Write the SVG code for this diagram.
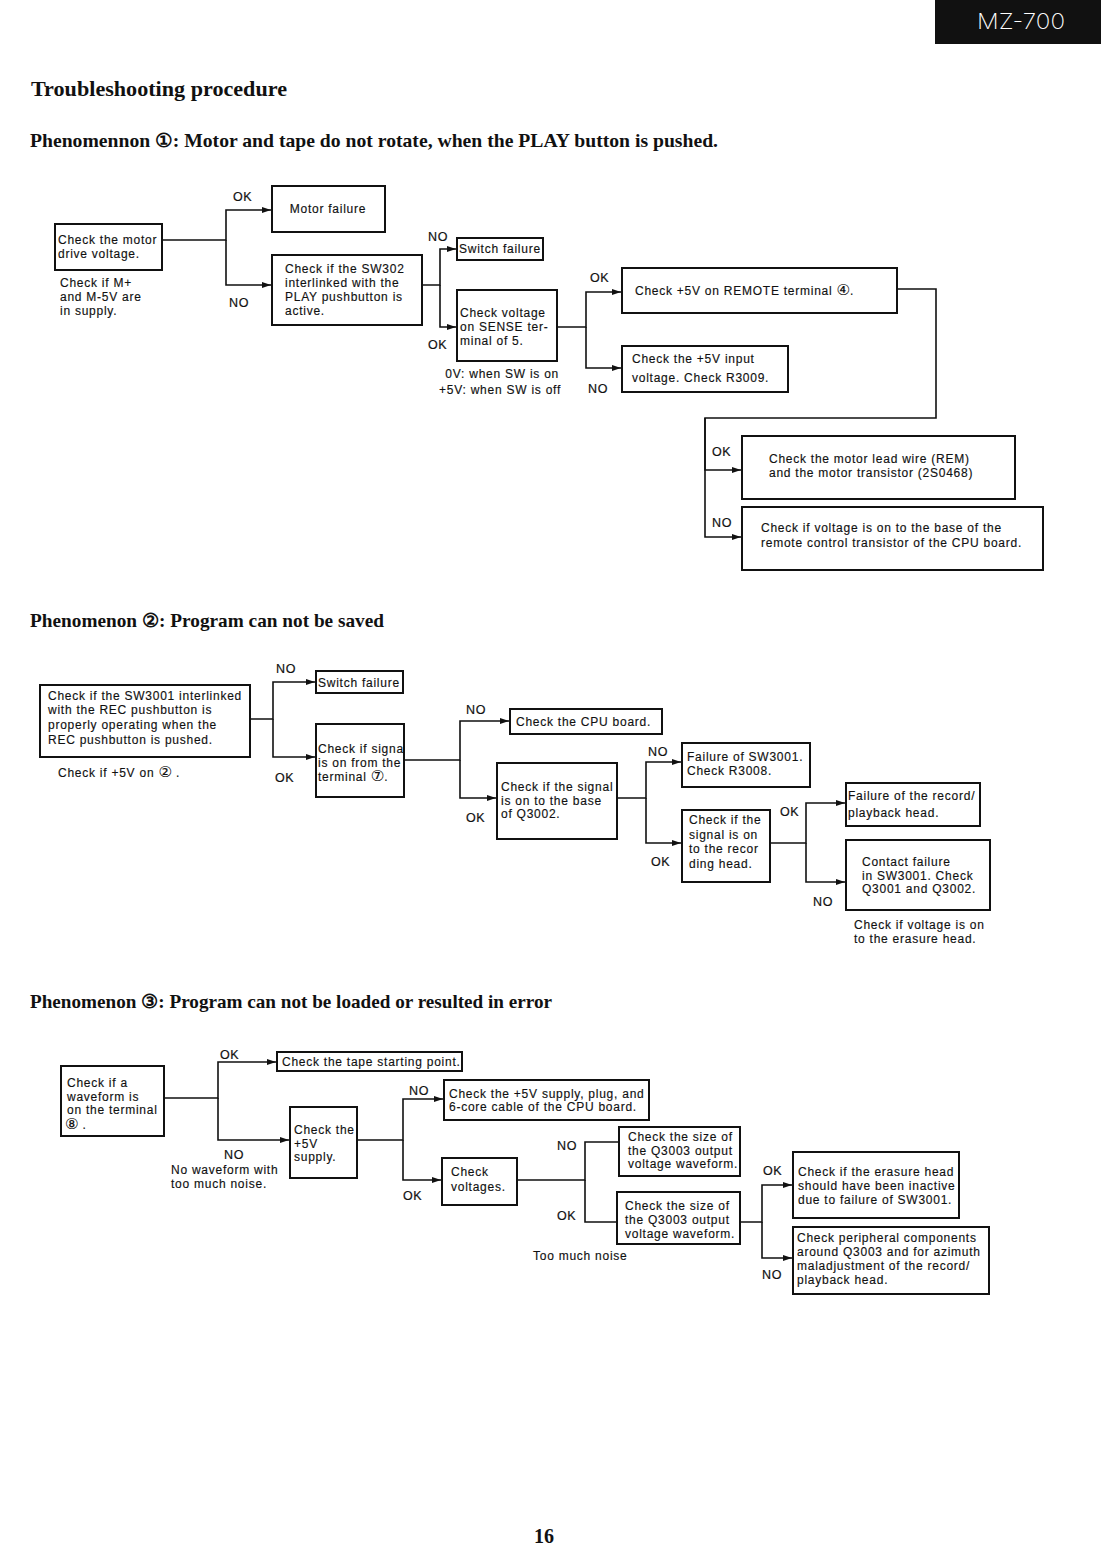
<svg xmlns="http://www.w3.org/2000/svg" width="1101" height="1566" viewBox="0 0 1101 1566">
<defs>
<marker id="ar" markerUnits="userSpaceOnUse" markerWidth="10" markerHeight="8" refX="9" refY="3.5" orient="auto">
<path d="M0,0.5 L9,3.5 L0,6.5 z" fill="#111"/>
</marker>
<clipPath id="clipSig"><rect x="316" y="724" width="87" height="73"/></clipPath>
<style>
.t{font-family:"Liberation Sans",Arial,sans-serif;font-size:12px;letter-spacing:0.75px;fill:#111;stroke:#111;stroke-width:0.15}
.l{font-family:"Liberation Sans",Arial,sans-serif;font-size:12.5px;letter-spacing:0.6px;fill:#111;stroke:#111;stroke-width:0.2}
.h{font-family:"Liberation Serif","Times New Roman",serif;font-weight:bold;fill:#111}
.n{font-family:"DejaVu Sans",sans-serif;font-size:15px;stroke-width:0.1;letter-spacing:0}
.b{fill:#fff;stroke:#111;stroke-width:2}
.c{fill:none;stroke:#111;stroke-width:1.6}
.a{fill:none;stroke:#111;stroke-width:1.6;marker-end:url(#ar)}
</style>
</defs>
<rect width="1101" height="1566" fill="#fff"/>
<g id="header">
<rect x="935" y="0" width="166" height="44" fill="#111"/>
<text x="977" y="29" textLength="88" lengthAdjust="spacingAndGlyphs" style="font-family:Inter,'DejaVu Sans',sans-serif;font-weight:200;font-size:22px;fill:#fff">MZ-700</text>
</g>
<g id="titles">
<text class="h" x="31" y="96" font-size="21" textLength="256" lengthAdjust="spacingAndGlyphs">Troubleshooting procedure</text>
<text class="h" x="30" y="147" font-size="19" textLength="688" lengthAdjust="spacingAndGlyphs">Phenomennon ①:  Motor and tape do not rotate, when the PLAY button is pushed.</text>
<text class="h" x="30" y="627" font-size="19" textLength="354" lengthAdjust="spacingAndGlyphs">Phenomenon ②:  Program can not be saved</text>
<text class="h" x="30" y="1008" font-size="19" textLength="522" lengthAdjust="spacingAndGlyphs">Phenomenon ③:  Program can not be loaded or resulted in error</text>
<text class="h" x="544" y="1543" font-size="20" text-anchor="middle">16</text>
</g>
<g id="connectors">
<path class="a" d="M162,240 H226 V210 H271"/>
<path class="a" d="M226,240 V285 H271"/>
<path class="a" d="M422,285 H440 V249 H456"/>
<path class="a" d="M440,285 V327 H456"/>
<path class="a" d="M557,327 H586 V292 H621"/>
<path class="a" d="M586,327 V368 H621"/>
<path class="c" d="M897,289 H936 V418 H705 V470"/>
<path class="a" d="M705,418 V470 H741"/>
<path class="a" d="M705,470 V537 H741"/>
<path class="a" d="M250,719 H273 V682 H315"/>
<path class="a" d="M273,719 V757 H315"/>
<path class="a" d="M404,760 H460 V721 H509"/>
<path class="a" d="M460,760 V798 H496"/>
<path class="a" d="M617,798 H646 V762 H681"/>
<path class="a" d="M646,798 V843 H681"/>
<path class="a" d="M770,843 H806 V803 H845"/>
<path class="a" d="M806,843 V882 H845"/>
<path class="a" d="M164,1098 H218 V1062 H276"/>
<path class="a" d="M218,1098 V1140 H289"/>
<path class="a" d="M357,1140 H403 V1099 H443"/>
<path class="a" d="M403,1140 V1180 H441"/>
<path class="c" d="M517,1180 H585 V1142 H619"/>
<path class="c" d="M585,1180 V1222 H617"/>
<path class="a" d="M740,1222 H762 V1185 H792"/>
<path class="a" d="M762,1222 V1258 H792"/>
</g>
<g id="labels">
<text class="l" x="233" y="201">OK</text>
<text class="l" x="229" y="307">NO</text>
<text class="l" x="428" y="241">NO</text>
<text class="l" x="428" y="349">OK</text>
<text class="l" x="590" y="282">OK</text>
<text class="l" x="588" y="393">NO</text>
<text class="l" x="712" y="456">OK</text>
<text class="l" x="712" y="527">NO</text>
<text class="l" x="276" y="673">NO</text>
<text class="l" x="275" y="782">OK</text>
<text class="l" x="466" y="714">NO</text>
<text class="l" x="466" y="822">OK</text>
<text class="l" x="648" y="756">NO</text>
<text class="l" x="651" y="866">OK</text>
<text class="l" x="780" y="816">OK</text>
<text class="l" x="813" y="906">NO</text>
<text class="l" x="220" y="1059">OK</text>
<text class="l" x="224" y="1159">NO</text>
<text class="l" x="409" y="1095">NO</text>
<text class="l" x="403" y="1200">OK</text>
<text class="l" x="557" y="1150">NO</text>
<text class="l" x="557" y="1220">OK</text>
<text class="l" x="763" y="1175">OK</text>
<text class="l" x="762" y="1279">NO</text>
</g>
<g id="notes">
<text class="t" x="60" y="287">Check if M+</text>
<text class="t" x="60" y="301">and M-5V are</text>
<text class="t" x="60" y="315">in supply.</text>
<text class="t" x="559" y="378" text-anchor="end">0V: when SW is on</text>
<text class="t" x="561" y="394" text-anchor="end">+5V: when SW is off</text>
<text class="t" x="58" y="777">Check if +5V on <tspan class="n">②</tspan> .</text>
<text class="t" x="854" y="929">Check if voltage is on</text>
<text class="t" x="854" y="943">to the erasure head.</text>
<text class="t" x="171" y="1174">No waveform with</text>
<text class="t" x="171" y="1188">too much noise.</text>
<text class="t" x="533" y="1260">Too much noise</text>
</g>
<g id="p1-motor-drive"><rect class="b" x="55" y="224" width="107" height="46"/><text class="t" x="58" y="244">Check the motor</text><text class="t" x="58" y="258">drive voltage.</text></g>
<g id="p1-motor-failure"><rect class="b" x="272" y="186" width="113" height="46"/><text class="t" x="328" y="213" text-anchor="middle">Motor failure</text></g>
<g id="p1-sw302"><rect class="b" x="272" y="255" width="150" height="70"/><text class="t" x="285" y="273">Check if the SW302</text><text class="t" x="285" y="287">interlinked with the</text><text class="t" x="285" y="301">PLAY pushbutton is</text><text class="t" x="285" y="315">active.</text></g>
<g id="p1-switch-failure"><rect class="b" x="457" y="238" width="86" height="22"/><text class="t" x="459" y="253">Switch failure</text></g>
<g id="p1-sense"><rect class="b" x="457" y="290" width="100" height="71"/><text class="t" x="460" y="317">Check voltage</text><text class="t" x="460" y="331">on SENSE ter-</text><text class="t" x="460" y="345">minal of 5.</text></g>
<g id="p1-remote"><rect class="b" x="622" y="268" width="275" height="45"/><text class="t" x="635" y="295">Check +5V on REMOTE terminal <tspan class="n">④</tspan>.</text></g>
<g id="p1-input"><rect class="b" x="622" y="346" width="166" height="46"/><text class="t" x="632" y="363">Check the +5V input</text><text class="t" x="632" y="382">voltage. Check R3009.</text></g>
<g id="p1-lead"><rect class="b" x="742" y="436" width="273" height="63"/><text class="t" x="769" y="463">Check the motor lead wire (REM)</text><text class="t" x="769" y="477">and the motor transistor (2S0468)</text></g>
<g id="p1-base"><rect class="b" x="742" y="507" width="301" height="63"/><text class="t" x="761" y="532">Check if voltage is on to the base of the</text><text class="t" x="761" y="547">remote control transistor of the CPU board.</text></g>
<g id="p2-sw3001"><rect class="b" x="40" y="685" width="210" height="72"/><text class="t" x="48" y="700">Check if the SW3001 interlinked</text><text class="t" x="48" y="714">with the REC pushbutton is</text><text class="t" x="48" y="729">properly operating when the</text><text class="t" x="48" y="744">REC pushbutton is pushed.</text></g>
<g id="p2-switch-failure"><rect class="b" x="316" y="671" width="87" height="22"/><text class="t" x="318" y="687">Switch failure</text></g>
<g id="p2-signal7"><rect class="b" x="316" y="724" width="88" height="73"/><g clip-path="url(#clipSig)"><text class="t" x="318" y="753">Check if signal</text><text class="t" x="318" y="767">is on from the</text><text class="t" x="318" y="781">terminal <tspan class="n">⑦</tspan>.</text></g><rect x="316" y="724" width="88" height="73" fill="none" stroke="#111" stroke-width="2"/></g>
<g id="p2-cpu"><rect class="b" x="510" y="709" width="152" height="25"/><text class="t" x="516" y="726">Check the CPU board.</text></g>
<g id="p2-q3002"><rect class="b" x="497" y="763" width="120" height="76"/><text class="t" x="501" y="791">Check if the signal</text><text class="t" x="501" y="805">is on to the base</text><text class="t" x="501" y="818">of Q3002.</text></g>
<g id="p2-r3008"><rect class="b" x="682" y="743" width="128" height="44"/><text class="t" x="687" y="761">Failure of SW3001.</text><text class="t" x="687" y="775">Check R3008.</text></g>
<g id="p2-rechead"><rect class="b" x="682" y="810" width="88" height="72"/><text class="t" x="689" y="824">Check if the</text><text class="t" x="689" y="839">signal is on</text><text class="t" x="689" y="853">to the recor</text><text class="t" x="689" y="868">ding head.</text></g>
<g id="p2-headfail"><rect class="b" x="846" y="783" width="134" height="43"/><text class="t" x="848" y="800">Failure of the record/</text><text class="t" x="848" y="817">playback head.</text></g>
<g id="p2-contact"><rect class="b" x="846" y="840" width="144" height="70"/><text class="t" x="862" y="866">Contact failure</text><text class="t" x="862" y="880">in SW3001. Check</text><text class="t" x="862" y="893">Q3001 and Q3002.</text></g>
<g id="p3-waveform"><rect class="b" x="61" y="1066" width="103" height="70"/><text class="t" x="67" y="1087">Check if a</text><text class="t" x="67" y="1101">waveform is</text><text class="t" x="67" y="1114">on the terminal</text><text class="t" x="65" y="1129"><tspan class="n">⑧</tspan> .</text></g>
<g id="p3-tape"><rect class="b" x="277" y="1052" width="185" height="19"/><text class="t" x="282" y="1066">Check the tape starting point.</text></g>
<g id="p3-5v"><rect class="b" x="290" y="1107" width="67" height="71"/><text class="t" x="294" y="1134">Check the</text><text class="t" x="294" y="1148">+5V</text><text class="t" x="294" y="1161">supply.</text></g>
<g id="p3-plug"><rect class="b" x="444" y="1080" width="205" height="40"/><text class="t" x="449" y="1098">Check the +5V supply, plug, and</text><text class="t" x="449" y="1111">6-core cable of the CPU board.</text></g>
<g id="p3-voltages"><rect class="b" x="442" y="1158" width="75" height="47"/><text class="t" x="451" y="1176">Check</text><text class="t" x="451" y="1191">voltages.</text></g>
<g id="p3-size-no"><rect class="b" x="619" y="1127" width="121" height="49"/><text class="t" x="628" y="1141">Check the size of</text><text class="t" x="628" y="1155">the Q3003 output</text><text class="t" x="628" y="1168">voltage waveform.</text></g>
<g id="p3-size-ok"><rect class="b" x="617" y="1192" width="123" height="52"/><text class="t" x="625" y="1210">Check the size of</text><text class="t" x="625" y="1224">the Q3003 output</text><text class="t" x="625" y="1238">voltage waveform.</text></g>
<g id="p3-erasure"><rect class="b" x="793" y="1152" width="166" height="66"/><text class="t" x="798" y="1176">Check if the erasure head</text><text class="t" x="798" y="1190">should have been inactive</text><text class="t" x="798" y="1204">due to failure of SW3001.</text></g>
<g id="p3-peripheral"><rect class="b" x="793" y="1227" width="196" height="67"/><text class="t" x="797" y="1242">Check peripheral components</text><text class="t" x="797" y="1256">around Q3003 and for azimuth</text><text class="t" x="797" y="1270">maladjustment of the record/</text><text class="t" x="797" y="1284">playback head.</text></g>
</svg>
